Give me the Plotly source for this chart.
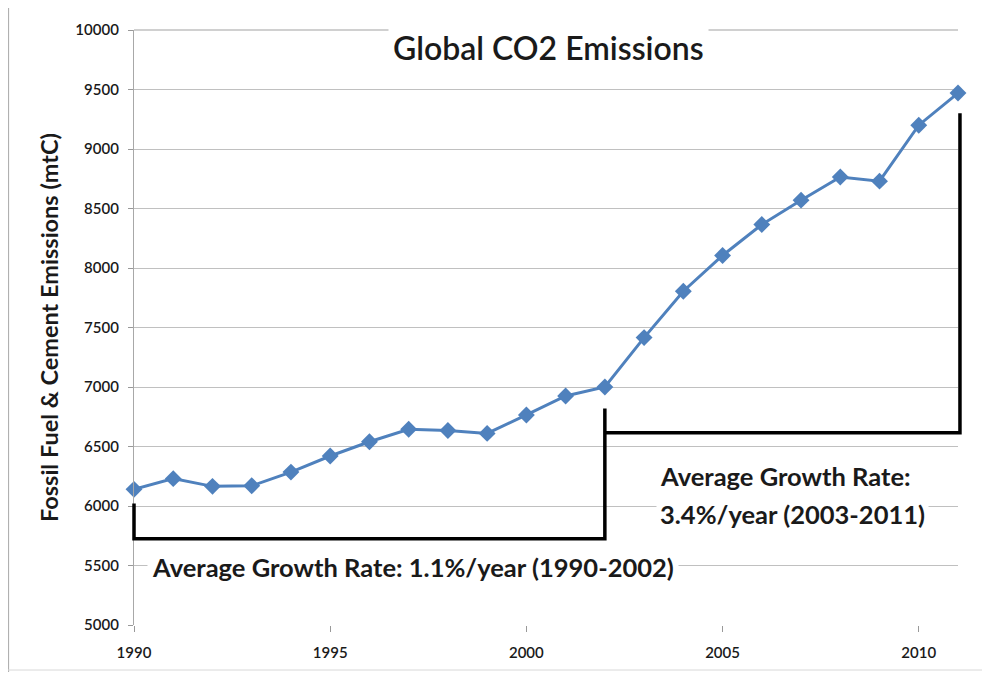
import plotly.graph_objects as go

years = list(range(1990, 2012))
emissions = [6140, 6230, 6165, 6170, 6285, 6420, 6540, 6645, 6635, 6610, 6765, 6925,
             7000, 7415, 7805, 8105, 8365, 8570, 8765, 8730, 9200, 9470]

y_ticks = list(range(5000, 10001, 500))
y_tick_labels = [str(v) for v in y_ticks]
x_ticks = [1990, 1995, 2000, 2005, 2010]
x_tick_labels = [str(v) for v in x_ticks]

title_text = "Global CO2 Emissions"
y_title = "Fossil Fuel &amp; Cement Emissions (mtC)"
note1 = "Average Growth Rate: 1.1%/year (1990-2002)"
note2_lines = ["Average Growth Rate:", "3.4%/year (2003-2011)"]

# bracket outlines (year, value) for the two growth periods
bracket1 = dict(x=[1990, 1990, 2002, 2002], y=[6020, 5725, 5725, 6820])
bracket2 = dict(x=[2002, 2011.05, 2011.05], y=[6615, 6615, 9300])

X_RANGE = [1990, 2011]
Y_RANGE = [5000, 10000]

FONT = "Lato, 'Open Sans', sans-serif"
TXT = "#1a1a1a"
GRID = "#c0c0c0"

# page body has an 8px margin: figure is drawn at (8, 8) in the window
OFF = 8
FW, FH = 990 - OFF, 676 - OFF
L, W, T, H = 134 - OFF, 824, 30 - OFF, 595


def px(xs):
    return (xs - OFF - L) / W


def py(ys):
    return (T + H - (ys - OFF)) / H


def dx(year):
    return (year - X_RANGE[0]) / (X_RANGE[1] - X_RANGE[0])


def dy(val):
    return (val - Y_RANGE[0]) / (Y_RANGE[1] - Y_RANGE[0])


fig = go.Figure()
fig.add_trace(go.Scatter(
    x=years, y=emissions, mode="lines+markers",
    line=dict(color="#4f81bd", width=3),
    marker=dict(symbol="diamond", size=13, color="#4f81bd"),
    showlegend=False, hoverinfo="x+y", cliponaxis=False))

# top gridline (plotly omits the one on the plot edge)
fig.add_shape(type="line", xref="paper", yref="paper",
              x0=0, x1=1, y0=dy(Y_RANGE[1]), y1=dy(Y_RANGE[1]),
              line=dict(color=GRID, width=1.4), layer="below")

# brackets in paper space (not clipped at the plot edges)
for b in (bracket1, bracket2):
    path = "M " + " L ".join(f"{dx(x):.5f},{dy(y):.5f}"
                             for x, y in zip(b["x"], b["y"]))
    fig.add_shape(type="path", path=path, xref="paper", yref="paper",
                  line=dict(color="black", width=3.5), layer="above")

# frame remnants from the original screenshot
fig.add_shape(type="line", xref="paper", yref="paper",
              x0=px(8.5), x1=px(8.5), y0=py(8), y1=py(672),
              line=dict(color="#b0b0b0", width=1.2))
fig.add_shape(type="line", xref="paper", yref="paper",
              x0=px(8), x1=px(990), y0=py(670), y1=py(670),
              line=dict(color="#d8d8d8", width=1))

fig.add_annotation(text=title_text, xref="paper", yref="paper",
                   x=px(548), y=py(47), xanchor="center", yanchor="middle",
                   showarrow=False,
                   font=dict(family=FONT, size=32, color=TXT, weight=600),
                   bgcolor="white", borderpad=4)
fig.add_annotation(text=note1, xref="x", yref="y",
                   x=1997.1, y=5490, xanchor="center", yanchor="middle",
                   showarrow=False,
                   font=dict(family=FONT, size=25.5, color=TXT, weight=700),
                   bgcolor="white", borderpad=4)
for line, val in zip(note2_lines, [6252, 5935]):
    fig.add_annotation(text=line, xref="x", yref="y",
                       x=2003.3, y=val, xanchor="left", yanchor="middle",
                       showarrow=False,
                       font=dict(family=FONT, size=25.5, color=TXT, weight=700),
                       bgcolor="white", borderpad=3)

fig.update_layout(
    width=FW, height=FH,
    margin=dict(l=L, r=FW - L - W, t=T, b=FH - T - H, autoexpand=False),
    paper_bgcolor="white", plot_bgcolor="white",
    font=dict(family=FONT, color=TXT),
    xaxis=dict(range=X_RANGE, tickvals=x_ticks, ticktext=x_tick_labels,
               ticks="outside", ticklen=6, tickcolor="#999999",
               showgrid=False, zeroline=False, showline=False,
               ticklabelstandoff=8,
               tickfont=dict(family=FONT, size=15, color=TXT, weight=600)),
    yaxis=dict(range=Y_RANGE, tickvals=y_ticks, ticktext=y_tick_labels,
               ticks="outside", ticklen=5, tickcolor="#999999",
               showgrid=True, gridcolor=GRID, gridwidth=1.4,
               zeroline=False, showline=True, linecolor="#a8a8a8",
               linewidth=1.3, ticklabelstandoff=6,
               tickfont=dict(family=FONT, size=15, color=TXT, weight=600),
               title=dict(text=y_title, standoff=10,
                          font=dict(family=FONT, size=23.5, color=TXT,
                                    weight=700))),
)

fig.write_html("out.html")
